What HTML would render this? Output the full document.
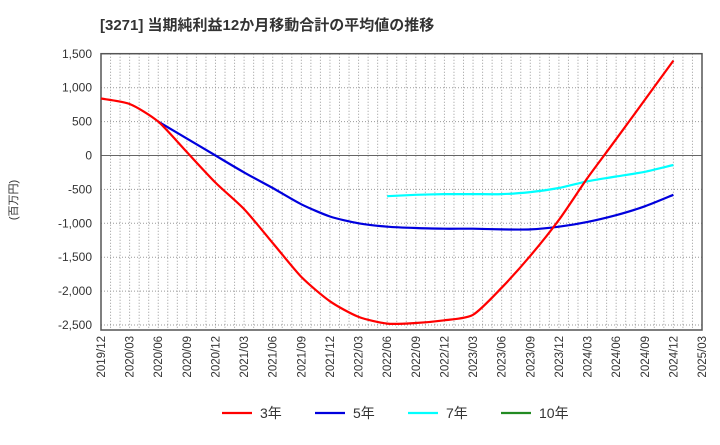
<!DOCTYPE html>
<html><head><meta charset="utf-8"><style>
body{margin:0;background:#fff;font-family:"Liberation Sans","Noto Sans CJK JP",sans-serif;}
svg text{font-family:"Liberation Sans","Noto Sans CJK JP",sans-serif;}
</style></head><body>
<svg id="c" width="720" height="440">
<text x="100" y="30" font-size="15" font-weight="bold" fill="#333">[3271]  当期純利益12か月移動合計の平均値の推移</text>
<text transform="translate(17,200) rotate(-90)" font-size="11" fill="#333" text-anchor="middle">(百万円)</text>
<g id="grid"></g><g id="series"></g><g id="legend"></g>
</svg>
<script>
const xLabels=["2019/12","2020/03","2020/06","2020/09","2020/12","2021/03","2021/06","2021/09","2021/12","2022/03","2022/06","2022/09","2022/12","2023/03","2023/06","2023/09","2023/12","2024/03","2024/06","2024/09","2024/12","2025/03"];
const yTicks=[1500,1000,500,0,-500,-1000,-1500,-2000,-2500];
const s3=[840,760,500,50,-400,-790,-1290,-1790,-2150,-2380,-2480,-2470,-2430,-2350,-1950,-1480,-950,-330,240,820,1400];
const s5=[null,null,500,250,0,-250,-480,-720,-900,-1000,-1050,-1070,-1080,-1080,-1090,-1090,-1050,-980,-880,-750,-580];
const s7=[null,null,null,null,null,null,null,null,null,null,-600,-580,-570,-570,-570,-540,-480,-380,-310,-240,-140];
const s10=[];
const L=101,R=702,T=53.7,Bv=330;
const X=i=>L+i*(R-L)/21;
const Y=v=>155.5-v*0.0678;
const ns="http://www.w3.org/2000/svg";
function mk(p,t,a){const e=document.createElementNS(ns,t);for(const k in a)e.setAttribute(k,a[k]);p.appendChild(e);return e;}
const g=document.getElementById('grid');
for(let m=1;m<63;m++){const x=L+m*(R-L)/63;
const ln=mk(g,'line',{x1:x,x2:x,y1:T,y2:Bv,stroke:'#999','stroke-dasharray':'1,2','stroke-width':1});
}
yTicks.forEach(v=>{const y=Y(v);
const ln=mk(g,'line',{x1:L,x2:R,y1:y,y2:y,stroke:v===0?'#666':'#999','stroke-dasharray':v===0?'':'1,2','stroke-width':1});

const t=mk(g,'text',{x:L-9,y:y+4,'font-size':12,fill:'#333','text-anchor':'end'});t.textContent=v.toLocaleString('en-US');
});
xLabels.forEach((l,i)=>{const x=X(i);
const t=mk(g,'text',{transform:`translate(${x+4},${Bv+6}) rotate(-90)`,'font-size':11.5,fill:'#333','text-anchor':'end'});t.textContent=l;
});
const fr=mk(g,'rect',{x:L,y:T,width:R-L,height:Bv-T,fill:'none',stroke:'#555','stroke-width':1.5});

const sg=document.getElementById('series');
function draw(arr,col,name){const pts=[];arr.forEach((v,i)=>{if(v!=null)pts.push([X(i),Y(v)]);});
if(!pts.length)return;let d='M'+pts[0][0].toFixed(1)+','+pts[0][1].toFixed(1);const k=0.12;
for(let i=0;i<pts.length-1;i++){const p0=pts[i-1]||pts[i],p1=pts[i],p2=pts[i+1],p3=pts[i+2]||p2;
const c1=[p1[0]+(p2[0]-p0[0])*k,p1[1]+(p2[1]-p0[1])*k],c2=[p2[0]-(p3[0]-p1[0])*k,p2[1]-(p3[1]-p1[1])*k];
d+=`C${c1[0].toFixed(1)},${c1[1].toFixed(1)} ${c2[0].toFixed(1)},${c2[1].toFixed(1)} ${p2[0].toFixed(1)},${p2[1].toFixed(1)}`;}
const p=mk(sg,'path',{d:d,fill:'none',stroke:col,'stroke-width':2.2,'stroke-linejoin':'round'});
}
draw(s7,'#00ffff','series-7yr');draw(s5,'#0000dd','series-5yr');draw(s3,'#ff0000','series-3yr');draw(s10,'#228b22','series-10yr');
const lg=document.getElementById('legend');
[["3年","#ff0000",222],["5年","#0000dd",315],["7年","#00ffff",408],["10年","#228b22",501]].forEach(([n,c,x])=>{
const e=mk(lg,'g',{});
mk(e,'line',{x1:x,x2:x+30,y1:413,y2:413,stroke:c,'stroke-width':2.2});
const t=mk(e,'text',{x:x+38,y:418,'font-size':14,fill:'#333'});t.textContent=n;});
</script>
</body></html>
